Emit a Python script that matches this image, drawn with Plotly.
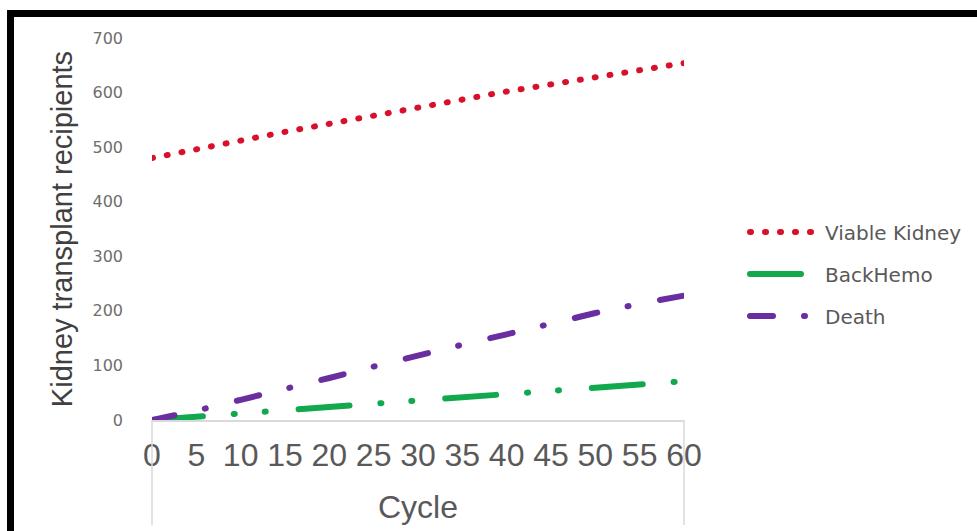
import plotly.graph_objects as go

# Cohort state counts per model cycle
cycles = [0, 5, 10, 15, 20, 25, 30, 35, 40, 45, 50, 55, 60]
viable_kidney = [480, 495, 512, 528, 543, 559, 574, 588, 602, 615, 628, 641, 654]
back_hemo = [0, 5, 12, 18, 24, 30, 36, 43, 49, 55, 61, 66, 71]
death = [0, 17, 37, 56, 77, 98, 119, 138, 157, 177, 196, 213, 228]

x_ticks = [0, 5, 10, 15, 20, 25, 30, 35, 40, 45, 50, 55, 60]
y_ticks = [0, 100, 200, 300, 400, 500, 600, 700]

RED = "#d8102a"
GREEN = "#12a84e"
PURPLE = "#6a2ea0"

fig = go.Figure()
fig.add_trace(go.Scatter(
    x=cycles, y=viable_kidney, name="Viable Kidney", mode="lines",
    legendgroup="vk",
    line=dict(color=RED, width=6, dash="1px,14px"),
))
fig.add_trace(go.Scatter(
    x=cycles, y=back_hemo, name="BackHemo", mode="lines",
    legendgroup="bh",
    line=dict(color=GREEN, width=6, dash="51px,31px,1px,30px,1px,33px"),
))
fig.add_trace(go.Scatter(
    x=cycles, y=death, name="Death", mode="lines",
    legendgroup="de",
    line=dict(color=PURPLE, width=6, dash="23px,31px,1px,32px"),
))

L, R, T, B = 152, 293, 38, 111
W, H = 977, 531
pw, ph = W - L - R, H - T - B


def px_x(p):
    return (p - L) / pw


def px_y(p):
    return (H - B - p) / ph


shapes = [
    # black outer frame
    dict(type="rect", xref="paper", yref="paper",
         x0=px_x(10.5), x1=px_x(1010), y0=px_y(13.5), y1=px_y(560),
         line=dict(color="black", width=7), fillcolor="rgba(0,0,0,0)", layer="above"),
    # box edges under the category axis
    dict(type="line", xref="paper", yref="paper", x0=0, x1=0, y0=0, y1=px_y(525),
         line=dict(color="#d9d9d9", width=1.5)),
    dict(type="line", xref="paper", yref="paper", x0=1, x1=1, y0=0, y1=px_y(525),
         line=dict(color="#d9d9d9", width=1.5)),
]

fig.update_layout(
    template="none",
    width=W, height=H,
    margin=dict(l=L, r=R, t=T, b=B, autoexpand=False),
    paper_bgcolor="white", plot_bgcolor="white",
    showlegend=True,
    legend=dict(
        x=px_x(745), xanchor="left", y=px_y(274), yanchor="middle",
        font=dict(family="DejaVu Sans", size=20, color="#595959"),
        itemwidth=70, tracegroupgap=13, bgcolor="rgba(0,0,0,0)",
    ),
    xaxis=dict(
        range=[0, 60], tickvals=x_ticks, ticktext=[str(v) for v in x_ticks],
        showgrid=False, zeroline=False, showline=True, linecolor="#d9d9d9", linewidth=1.5,
        ticks="", ticklabelstandoff=6, automargin=False,
        tickfont=dict(family="Liberation Sans", size=32, color="#595959"),
        title=dict(text="Cycle", standoff=23,
                   font=dict(family="Liberation Sans", size=32, color="#595959")),
    ),
    yaxis=dict(
        range=[0, 700], tickvals=y_ticks,
        showgrid=False, zeroline=False, showline=False,
        ticks="", ticklabelstandoff=28, automargin=False,
        tickfont=dict(family="DejaVu Sans", size=16, color="#6e6e6e"),
        title=dict(text="Kidney transplant recipients", standoff=11,
                   font=dict(family="Liberation Sans", size=29, color="#404040")),
    ),
    shapes=shapes,
)

round_caps = (
    "var s=document.createElement('style');"
    "s.textContent='.js-line{stroke-linecap:round;}';"
    "document.head.appendChild(s);"
)
fig.write_html("out.html", post_script=round_caps)
